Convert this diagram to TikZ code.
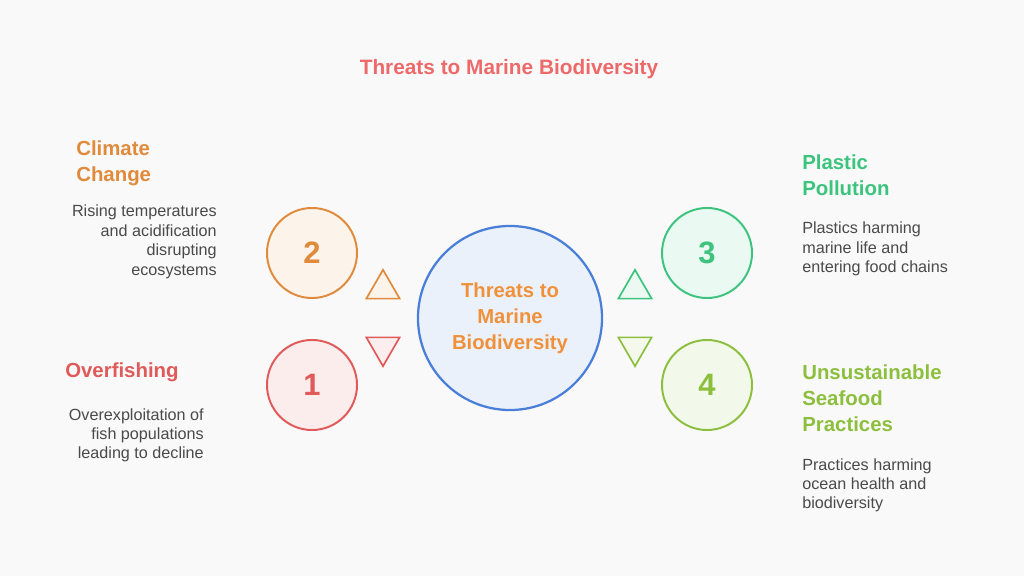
\documentclass[tikz,border=0pt]{standalone}
\usepackage{fontspec}
\setmainfont{Liberation Sans}
\usetikzlibrary{positioning,shapes.geometric}

\definecolor{bgc}{HTML}{F9F9F9}
\definecolor{txt}{HTML}{4A4A4A}
\definecolor{redc}{HTML}{E05A5A}
\definecolor{orac}{HTML}{E08A3C}
\definecolor{grnc}{HTML}{3CC47E}
\definecolor{limc}{HTML}{8DBF3E}
\definecolor{bluc}{HTML}{4A7FD9}
\definecolor{ttlc}{HTML}{EE6A6A}
\definecolor{hubt}{HTML}{F0913A}

\tikzset{
  num/.style={circle, line width=1.4pt, minimum size=2.25cm, inner sep=0pt,
    font=\fontsize{22}{26}\selectfont\bfseries},
  head/.style={inner sep=0pt, align=left, font=\fontsize{14.5}{18.6}\selectfont\bfseries},
  desc/.style={inner sep=0pt, text=txt, font=\fontsize{11.5}{13.8}\selectfont},
  tri/.style={regular polygon, regular polygon sides=3, minimum size=0.96cm,
    inner sep=0pt, line width=1.2pt}
}

\begin{document}
\begin{tikzpicture}[x=0.025cm, y=-0.025cm]
\def\xl{312}
\def\xr{707}
\def\ya{253}
\def\yb{385}

\fill[bgc] (0,0) rectangle (1024,576);
\useasboundingbox (0,0) rectangle (1024,576);

\node(title) at (509,69) [text=ttlc, font=\fontsize{14.8}{16}\selectfont\bfseries] {Threats to Marine Biodiversity};

\node(hub) at (510,318) [circle, draw=bluc, fill=bluc!11, line width=1.6pt, minimum size=4.6cm,
  align=center, text=hubt, font=\fontsize{14.4}{18.6}\selectfont\bfseries] {Threats to\\Marine\\Biodiversity};

\node(two) at (\xl,\ya) [num, draw=orac, fill=orac!10, text=orac] {2};
\node(one) at (\xl,\yb) [num, draw=redc, fill=redc!11, text=redc] {1};
\node(three) at (\xr,\ya) [num, draw=grnc, fill=grnc!11, text=grnc] {3};
\node(four) at (\xr,\yb) [num, draw=limc, fill=limc!11, text=limc] {4};

\node(ta) at (383,289) [tri, draw=orac, fill=orac!10] {};
\node(tb) at (383,347) [tri, shape border rotate=180, draw=redc, fill=redc!10] {};
\node(tc) at (635,289) [tri, draw=grnc, fill=grnc!10] {};
\node(td) at (635,347) [tri, shape border rotate=180, draw=limc, fill=limc!10] {};

\node(climate) at (76,140) [head, anchor=north west, text=orac] {Climate\\Change};
\node(climated) at (217,205) [desc, anchor=north east, align=right] {Rising temperatures\\and acidification\\disrupting\\ecosystems};

\node(fish) at (65,362) [head, anchor=north west, text=redc] {Overfishing};
\node(fishd) at (204,408) [desc, anchor=north east, align=right] {Overexploitation of\\fish populations\\leading to decline};

\node(plastic) at (802,154) [head, anchor=north west, text=grnc] {Plastic\\Pollution};
\node(plasticd) at (802,222) [desc, anchor=north west, align=left] {Plastics harming\\marine life and\\entering food chains};

\node(sea) at (802,364) [head, anchor=north west, text=limc] {Unsustainable\\Seafood\\Practices};
\node(sead) at (802,458) [desc, anchor=north west, align=left] {Practices harming\\ocean health and\\biodiversity};
\end{tikzpicture}
\end{document}
